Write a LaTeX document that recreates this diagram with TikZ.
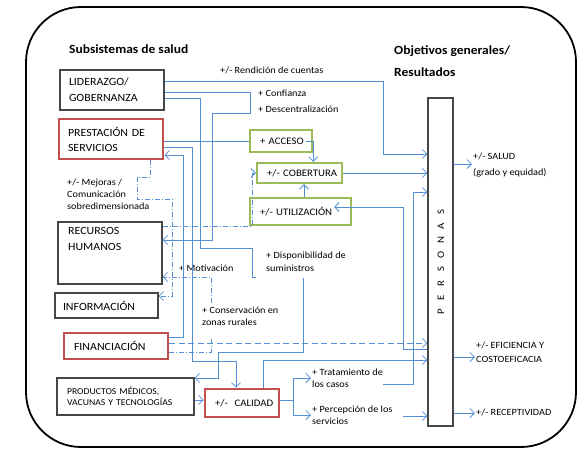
\documentclass[tikz,border=0pt]{standalone}
\usepackage{fontspec}
\setmainfont{Carlito}[FakeStretch=1.08]
\usepackage{tikz}
\usetikzlibrary{arrows.meta}

\definecolor{azul}{RGB}{85,142,213}
\definecolor{rojo}{RGB}{192,80,77}
\definecolor{verde}{RGB}{155,187,89}
\definecolor{gris}{RGB}{70,70,70}

\newcommand{\fcaja}{\fontsize{11}{16}\selectfont}
\newcommand{\fetq}{\fontsize{9.5}{12}\selectfont}
\newcommand{\ftit}{\fontsize{12.5}{22}\selectfont\bfseries}

\begin{document}
\begin{tikzpicture}[x=1pt,y=-1pt,
	caja/.style={draw=gris,line width=1.1pt,inner sep=0pt,align=left,font=\fcaja},
	cajaroja/.style={caja,draw=rojo,line width=2.6pt},
	cajaverde/.style={caja,draw=verde,line width=2.3pt,font=\fontsize{10}{12}\selectfont},
	etq/.style={inner sep=1pt,align=left,anchor=west,font=\fetq},
	linea/.style={draw=azul,line width=0.8pt},
	lineapd/.style={linea,dash pattern=on 5pt off 2pt on 1pt off 2pt},
	lineag/.style={linea,dash pattern=on 6pt off 3.5pt},
	>={Straight Barb[length=4.5pt,width=9pt]}]
	\useasboundingbox (0,0) rectangle (581,451);
	\draw[line width=1.8pt,rounded corners=55pt] (26,7) rectangle (576,447);
	% titles
	\node[anchor=west,inner sep=0pt,font=\ftit] (tsub) at (69,49) {Subsistemas de salud};
	\node[anchor=west,inner sep=0pt,font=\ftit,align=left] (tobj) at (394,61) {Objetivos generales/\\Resultados};
	% subsystems
	\node[caja,minimum width=104pt,minimum height=40pt,text width=86pt] (lider) at (112,90) {\mbox{LIDERAZGO/}\\\mbox{GOBERNANZA}};
	\node[cajaroja,minimum width=104pt,minimum height=40pt,text width=86pt,font=\fontsize{11}{15}\selectfont] (prest) at (111,139) {\mbox{PRESTACIÓN DE}\\\mbox{SERVICIOS}};
	\node[caja,minimum width=104pt,minimum height=62pt] (rrhh) at (110,253) {};
	\node[anchor=north west,inner sep=0pt,align=left,font=\fcaja] (rrhhtxt) at (68,227) {RECURSOS\\HUMANOS};
	\node[caja,minimum width=103pt,minimum height=25pt,text width=87pt] (info) at (106.5,305.5) {\mbox{INFORMACIÓN}};
	\node[cajaroja,minimum width=104pt,minimum height=26pt,text width=84pt] (finan) at (116,346) {\mbox{FINANCIACIÓN}};
	\node[caja,minimum width=137pt,minimum height=37pt,text width=117pt,font=\fontsize{9}{11.5}\selectfont] (prod) at (125.5,396.5) {\mbox{PRODUCTOS MÉDICOS,}\\\mbox{VACUNAS Y TECNOLOGÍAS}};
	\node[cajaroja,minimum width=74pt,minimum height=28pt,text width=54pt,font=\fontsize{10}{12}\selectfont] (calidad) at (242,403) {\mbox{+/-\ \ CALIDAD}};
	% intermediate objectives
	\node[cajaverde,minimum width=62pt,minimum height=22pt,text width=42pt] (acceso) at (281,141) {\mbox{+ ACCESO}};
	\node[cajaverde,minimum width=85pt,minimum height=20pt,text width=65pt] (cobert) at (299.5,173) {\mbox{+/- COBERTURA}};
	\node[cajaverde,minimum width=101pt,minimum height=27pt,text width=81pt] (utiliz) at (300.5,211.5) {\mbox{+/- UTILIZACIÓN}};
	% personas
	\node[caja,minimum width=25pt,minimum height=328pt] (personas) at (440.5,262) {};
	\foreach \l [count=\i from 0] in {P,E,R,S,O,N,A,S}
		\node[rotate=90,inner sep=0pt,font=\fontsize{10}{12}\selectfont] (pl\i) at (441,312-14.3*\i) {\l};
	% labels
	\node[etq] (rend) at (219,70) {+/- Rendición de cuentas};
	\node[etq,font=\fontsize{9.5}{16}\selectfont] (conf) at (257,101) {+ Confianza\\+ Descentralización};
	\node[etq] (mej) at (66,194) {+/- Mejoras /\\Comunicación\\sobredimensionada};
	\node[etq] (motiv) at (178,268) {+ Motivación};
	\node[etq,font=\fontsize{9.5}{13}\selectfont] (disp) at (265,261.5) {+ Disponibilidad de\\suministros};
	\node[etq] (cons) at (201,316.5) {+ Conservación en\\zonas rurales};
	\node[etq] (trat) at (311,378) {+ Tratamiento de\\los casos};
	\node[etq] (perc) at (311,415) {+ Percepción de los\\servicios};
	\node[etq,font=\fontsize{9.5}{16}\selectfont] (salud) at (472,165) {+/- SALUD\\(grado y equidad)};
	\node[etq,font=\fontsize{9.5}{14}\selectfont] (efic) at (475,352) {+/- EFICIENCIA Y\\COSTOEFICACIA};
	\node[etq] (recep) at (475,412) {+/- RECEPTIVIDAD};
	%
	% from liderazgo
	\draw[linea,->] ([yshift=9pt]lider.east) -- (383,81) -- (383,154) -- (personas.west |- 0,154);
	\draw[linea,->] ([yshift=-2pt]lider.east) -- (250,92) -- (250,113) -- (212,113) -- (212,240) -- (rrhh.east |- 0,240);
	\draw[linea,->] ([yshift=-8pt]lider.east) -- (200,98) -- (200,248) -- (252,248) -- (252,277) -- (256,277)
		(303,278) -- (303,352) -- (218,352) -- (218,378) -- (prod.east |- 0,378);
	% from prestacion and financiacion
	\draw[linea] (prest.east |- acceso.west) -- (acceso.west);
	\draw[linea,->] (prest.east |- 0,147) -- (192,147) -- (192,361) -- (236,361) -- (calidad.north -| 236,0);
	\draw[linea,->] (finan.east |- 0,337) -- (183,337) -- (183,155) -- (prest.east |- 0,155);
	\draw[lineapd,->] (prest.south -| 150,0) -- (150,177) -- (137,177) -- (137,199) -- (172,199) -- (172,296) -- (info.east |- 0,296);
	\draw[lineapd,->] (rrhh.east |- 0,226) -- (252,226) -- (252,173) -- (cobert.west);
	\draw[lineapd,->] (finan.east |- 0,352) -- (211,352) -- (211,338) (211,303) -- (211,277) -- (rrhh.east |- 0,277);
	\draw[lineag,->] (finan.east |- 0,343) -- (personas.west |- 0,343);
	% green boxes
	\draw[linea,->] ([xshift=-7pt]acceso.east) -- (acceso.east) -- (acceso.east |- cobert.north);
	\draw[linea,->] (cobert.east) -- (personas.west |- cobert.east);
	\draw[linea,->] (utiliz.north -| 304,0) -- (cobert.south -| 304,0);
	\draw[linea,->] (personas.west |- 0,349) -- (403,349) -- (403,207) -- ([xshift=-18pt,yshift=4.5pt]utiliz.east);
	% calidad
	\draw[linea,->] (prod.east |- 0,400) -- (calidad.west |- 0,400);
	\draw[linea,->] (calidad.east |- 0,400) -- (293,400) |- (trat.west);
	\draw[linea,->] (293,400) |- (perc.west);
	\draw[linea,->] (calidad.north -| 263,0) -- (263,360) -- (personas.west |- 0,360);
	\draw[linea,->] (383,384) -- (413,384) -- (413,192) -- (personas.west |- 0,192);
	\draw[linea,->] (403,416) -- (personas.west |- 0,416);
	% results
	\draw[linea,->] (personas.east |- 0,164) -- (salud.west |- 0,164);
	\draw[linea,->] (personas.east |- 0,357) -- (efic.west |- 0,357);
	\draw[linea,->] (personas.east |- 0,413) -- (recep.west |- 0,413);
\end{tikzpicture}
\end{document}
